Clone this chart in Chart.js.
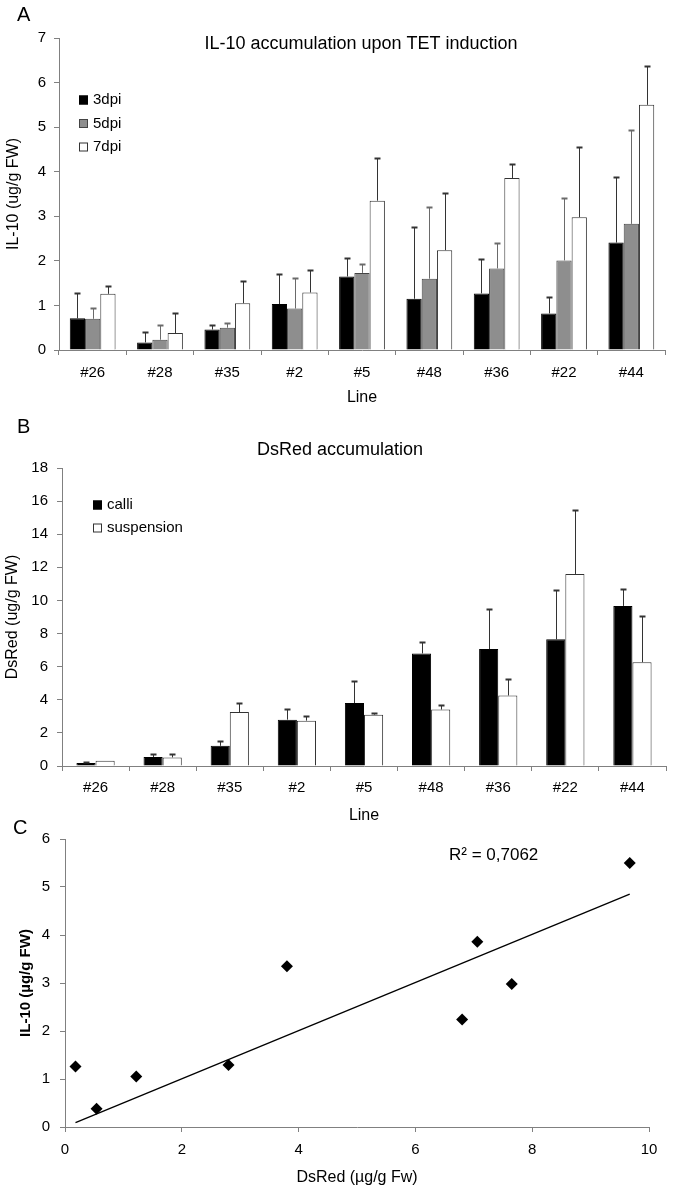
<!DOCTYPE html>
<html>
<head>
<meta charset="utf-8">
<script src="https://cdn.jsdelivr.net/npm/chart.js@4.4.1/dist/chart.umd.min.js"></script>
<style>
  body { margin: 0; background: #fff; }
  #wrap { position: relative; width: 685px; height: 1200px; }
  canvas { position: absolute; left: 0; }
</style>
</head>
<body>
<div id="wrap">
  <canvas id="chartA" width="685" height="410" style="top:0px"></canvas>
  <canvas id="chartB" width="685" height="420" style="top:410px"></canvas>
  <canvas id="chartC" width="685" height="380" style="top:820px"></canvas>
</div>
<script>
// ---- data ----
const lines = ["#26", "#28", "#35", "#2", "#5", "#48", "#36", "#22", "#44"];

// A: IL-10 (ug/g FW), mean and upper error
const il10_3dpi = [0.71, 0.17, 0.46, 1.03, 1.65, 1.15, 1.27, 0.82, 2.41];
const il10_3dpi_err = [0.58, 0.23, 0.09, 0.67, 0.41, 1.61, 0.77, 0.36, 1.47];
const il10_5dpi = [0.70, 0.23, 0.50, 0.93, 1.73, 1.60, 1.83, 2.01, 2.83];
const il10_5dpi_err = [0.25, 0.32, 0.10, 0.68, 0.20, 1.61, 0.57, 1.41, 2.11];
const il10_7dpi = [1.26, 0.38, 1.05, 1.29, 3.35, 2.24, 3.86, 2.98, 5.50];
const il10_7dpi_err = [0.18, 0.45, 0.50, 0.51, 0.96, 1.28, 0.31, 1.57, 0.88];

// B: DsRed (ug/g FW)
const dsred_calli = [0.18, 0.54, 1.22, 2.80, 3.80, 6.80, 7.06, 7.65, 9.67];
const dsred_calli_err = [0.08, 0.20, 0.30, 0.64, 1.32, 0.68, 2.41, 2.98, 1.03];
const dsred_susp = [0.32, 0.52, 3.26, 2.74, 3.10, 3.41, 4.26, 11.60, 6.27];
const dsred_susp_err = [0, 0.20, 0.55, 0.28, 0.12, 0.30, 0.97, 3.84, 2.78];

// C: IL-10 (7dpi) against DsRed (calli), one point per line
const scatterX = dsred_calli;
const scatterY = il10_7dpi;
const r2Label = "R\u00B2 = 0,7062";

const FONT = "'Liberation Sans', Arial, sans-serif";
const AXIS = "#808080";
Chart.defaults.font.family = FONT;
Chart.defaults.color = "#000";

// ---- small plugins ----
const errorBars = {
    id: "errorBars",
    afterDatasetsDraw(chart) {
        const ctx = chart.ctx;
        const ys = chart.scales.y;
        chart.data.datasets.forEach((ds, i) => {
            if (!ds.errors) return;
            chart.getDatasetMeta(i).data.forEach((bar, j) => {
                const e = ds.errors[j];
                if (!e) return;
                const x = Math.round(bar.x) + 0.5;
                const top = Math.round(ys.getPixelForValue(ds.data[j] + e)) + 0.5;
                ctx.save();
                ctx.strokeStyle = ds.errorColor;
                ctx.lineWidth = 1;
                ctx.beginPath();
                ctx.moveTo(x, bar.y);
                ctx.lineTo(x, top);
                ctx.stroke();
                ctx.lineWidth = 2;
                ctx.beginPath();
                ctx.moveTo(x - 3, top);
                ctx.lineTo(x + 3, top);
                ctx.stroke();
                ctx.restore();
            });
        });
    }
};

function boxLegend(x0, y0, step) {
    return {
        id: "boxLegend",
        afterDraw(chart) {
            const ctx = chart.ctx;
            chart.data.datasets.forEach((ds, i) => {
                const y = y0 + i * step;
                ctx.save();
                ctx.fillStyle = ds.backgroundColor;
                ctx.fillRect(x0, y - 4.5, 9, 9);
                ctx.strokeStyle = ds.borderColor;
                ctx.lineWidth = 1;
                ctx.strokeRect(x0 + 0.5, y - 4, 8, 8);
                ctx.fillStyle = "#000";
                ctx.font = "15px " + FONT;
                ctx.textBaseline = "middle";
                ctx.fillText(ds.label, x0 + 14, y);
                ctx.restore();
            });
        }
    };
}

function notes(items) {
    return {
        id: "notes",
        afterDraw(chart) {
            const ctx = chart.ctx;
            items.forEach(t => {
                ctx.save();
                ctx.font = t.f;
                ctx.fillStyle = "#000";
                ctx.textAlign = t.align || "left";
                ctx.textBaseline = "middle";
                ctx.fillText(t.text, t.x, t.y);
                ctx.restore();
            });
        }
    };
}

function xAxis(height, pad, title, titlePad, extra) {
    return Object.assign({
        grid: { offset: true, drawOnChartArea: false, tickLength: 5, color: AXIS },
        border: { color: AXIS },
        ticks: { padding: pad, font: { size: 15 }, color: "#000" },
        title: { display: true, text: title, font: { size: 16 }, padding: { top: 0, bottom: titlePad } },
        afterFit: s => { s.height = height; }
    }, extra || {});
}

function yAxis(max, step, width, title, titleFont, titlePad, pad) {
    return {
        min: 0,
        max: max,
        grid: { drawOnChartArea: false, tickLength: 5, color: AXIS },
        border: { color: AXIS },
        ticks: { stepSize: step, padding: pad, font: { size: 15 }, color: "#000" },
        title: { display: true, text: title, font: titleFont, padding: { top: titlePad, bottom: 0 } },
        afterFit: s => { s.width = width; }
    };
}

const baseOptions = {
    responsive: false,
    animation: false,
    events: []
};

// ---- A ----
new Chart(document.getElementById("chartA"), {
    type: "bar",
    data: {
        labels: lines,
        datasets: [
            { label: "3dpi", data: il10_3dpi, errors: il10_3dpi_err, backgroundColor: "#000", borderColor: "#000", borderWidth: 1, errorColor: "#333" },
            { label: "5dpi", data: il10_5dpi, errors: il10_5dpi_err, backgroundColor: "#8e8e8e", borderColor: "#444", borderWidth: 1, errorColor: "#6a6a6a" },
            { label: "7dpi", data: il10_7dpi, errors: il10_7dpi_err, backgroundColor: "#fff", borderColor: "#333", borderWidth: 1, errorColor: "#333" }
        ]
    },
    options: Object.assign({}, baseOptions, {
        layout: { padding: { top: 38, right: 20, left: 0, bottom: 0 } },
        datasets: { bar: { categoryPercentage: 0.68, barPercentage: 1 } },
        scales: {
            x: xAxis(60, 9, "Line", 3),
            y: yAxis(7, 1, 59, "IL-10 (ug/g FW)", { size: 16 }, 4, 8)
        },
        plugins: { legend: { display: false }, tooltip: { enabled: false } }
    }),
    plugins: [errorBars, boxLegend(79, 100, 23.5), notes([
        { text: "A", x: 17, y: 15, f: "20px " + FONT },
        { text: "IL-10 accumulation upon TET induction", x: 361, y: 44, f: "18px " + FONT, align: "center" }
    ])]
});

// ---- B ----
new Chart(document.getElementById("chartB"), {
    type: "bar",
    data: {
        labels: lines,
        datasets: [
            { label: "calli", data: dsred_calli, errors: dsred_calli_err, backgroundColor: "#000", borderColor: "#000", borderWidth: 1, errorColor: "#333" },
            { label: "suspension", data: dsred_susp, errors: dsred_susp_err, backgroundColor: "#fff", borderColor: "#333", borderWidth: 1, errorColor: "#333" }
        ]
    },
    options: Object.assign({}, baseOptions, {
        layout: { padding: { top: 58, right: 19, left: 0, bottom: 0 } },
        datasets: { bar: { categoryPercentage: 0.57, barPercentage: 1 } },
        scales: {
            x: xAxis(64, 8, "Line", 5),
            y: yAxis(18, 2, 62, "DsRed (ug/g FW)", { size: 16 }, 3, 9)
        },
        plugins: { legend: { display: false }, tooltip: { enabled: false } }
    }),
    plugins: [errorBars, boxLegend(93, 95, 23), notes([
        { text: "B", x: 17, y: 17, f: "20px " + FONT },
        { text: "DsRed accumulation", x: 340, y: 40, f: "18px " + FONT, align: "center" }
    ])]
});

// ---- C ----
const points = scatterX.map((x, i) => ({ x: x, y: scatterY[i] }));
// linear trend forced through the origin
let sxy = 0, sxx = 0;
scatterX.forEach((x, i) => { sxy += x * scatterY[i]; sxx += x * x; });
const slope = sxy / sxx;
const xMin = Math.min(...scatterX), xMax = Math.max(...scatterX);
const trend = [{ x: xMin, y: slope * xMin }, { x: xMax, y: slope * xMax }];

new Chart(document.getElementById("chartC"), {
    type: "scatter",
    data: {
        datasets: [
            { data: trend, showLine: true, borderColor: "#000", borderWidth: 1.3, pointRadius: 0, fill: false },
            { data: points, pointStyle: "rectRot", pointRadius: 6, backgroundColor: "#000", borderColor: "#000", borderWidth: 0 }
        ]
    },
    options: Object.assign({}, baseOptions, {
        layout: { padding: { top: 18, right: 36, left: 0, bottom: 0 } },
        scales: {
            x: xAxis(73, 9, "DsRed (\u00B5g/g Fw)", 13, {
                type: "linear", min: 0, max: 10,
                grid: { drawOnChartArea: false, tickLength: 5, color: AXIS },
                ticks: { stepSize: 2, padding: 9, font: { size: 15 }, color: "#000" }
            }),
            y: yAxis(6, 1, 65, "IL-10 (\u00B5g/g FW)", { size: 15, weight: "bold" }, 17, 10)
        },
        plugins: { legend: { display: false }, tooltip: { enabled: false } }
    }),
    plugins: [notes([
        { text: "C", x: 13, y: 8, f: "20px " + FONT },
        { text: r2Label, x: 449, y: 35, f: "17px " + FONT }
    ])]
});
</script>
</body>
</html>
